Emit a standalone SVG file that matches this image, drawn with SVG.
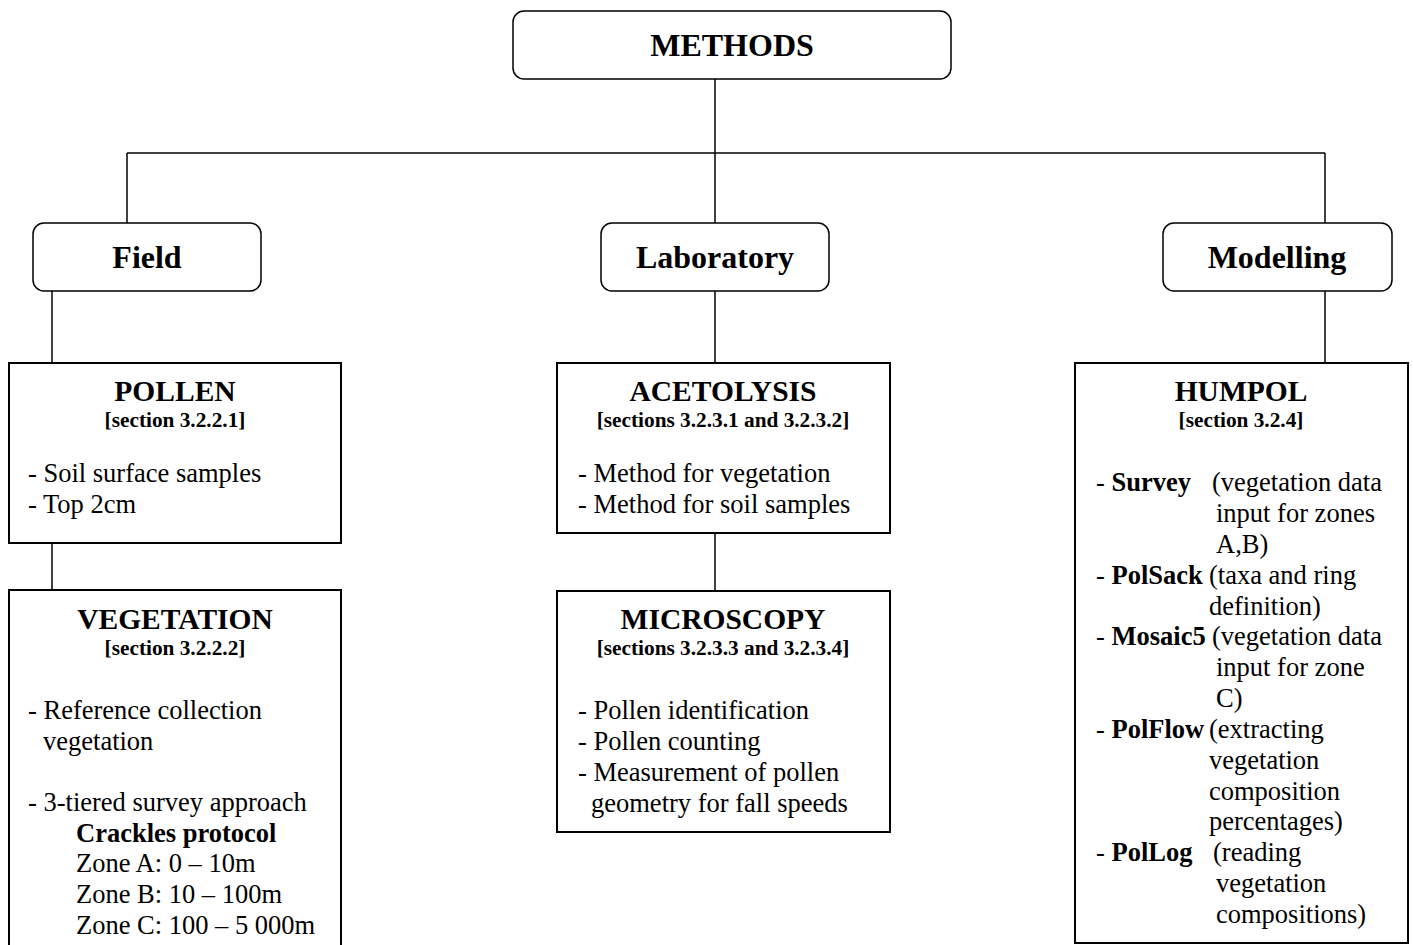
<svg xmlns="http://www.w3.org/2000/svg" width="1413" height="945" viewBox="0 0 1413 945">
<style>
text{font-family:"Liberation Serif","Times New Roman",serif;fill:#000}
.top{font-size:32px;font-weight:bold;text-anchor:middle}
.h{font-size:29.5px;font-weight:bold;text-anchor:middle}
.sec{font-size:21.3px;font-weight:bold;text-anchor:middle}
.b{font-size:26.5px}
.bb{font-weight:bold}
.rbox{fill:#fff;stroke:#000;stroke-width:1.5}
.box{fill:#fff;stroke:#000;stroke-width:2}
.conn line{stroke:#000;stroke-width:1.5}
</style>
<rect width="1413" height="945" fill="#fff"/>
<g id="connectors" class="conn">
<line x1="715" y1="79" x2="715" y2="153"/>
<line x1="127" y1="153" x2="1325" y2="153"/>
<line x1="127" y1="153" x2="127" y2="223"/>
<line x1="715" y1="153" x2="715" y2="223"/>
<line x1="1325" y1="153" x2="1325" y2="223"/>
<line x1="52" y1="291" x2="52" y2="363"/>
<line x1="52" y1="543" x2="52" y2="590"/>
<line x1="715" y1="291" x2="715" y2="363"/>
<line x1="715" y1="533" x2="715" y2="591"/>
<line x1="1325" y1="291" x2="1325" y2="363"/>
</g>
<g id="methods">
<rect class="rbox" x="513" y="11" width="438" height="68" rx="11"/>
<text class="top" x="732" y="56">METHODS</text>
</g>
<g id="field">
<rect class="rbox" x="33" y="223" width="228" height="68" rx="11"/>
<text class="top" x="147" y="268">Field</text>
</g>
<g id="laboratory">
<rect class="rbox" x="601" y="223" width="228" height="68" rx="11"/>
<text class="top" x="715" y="268">Laboratory</text>
</g>
<g id="modelling">
<rect class="rbox" x="1163" y="223" width="229" height="68" rx="11"/>
<text class="top" x="1277" y="268">Modelling</text>
</g>
<g id="pollen">
<rect class="box" x="9" y="363" width="332" height="180"/>
<text class="h" x="175" y="401">POLLEN</text>
<text class="sec" x="175" y="427">[section 3.2.2.1]</text>
<text class="b" x="28" y="482">- Soil surface samples</text>
<text class="b" x="28" y="513">- Top 2cm</text>
</g>
<g id="vegetation">
<rect class="box" x="9" y="590" width="332" height="370"/>
<text class="h" x="175" y="629">VEGETATION</text>
<text class="sec" x="175" y="655">[section 3.2.2.2]</text>
<text class="b" x="28" y="719">- Reference collection</text>
<text class="b" x="43" y="750">vegetation</text>
<text class="b" x="28" y="811">- 3-tiered survey approach</text>
<text class="b bb" x="76" y="842">Crackles protocol</text>
<text class="b" x="76" y="872">Zone A: 0 – 10m</text>
<text class="b" x="76" y="903">Zone B: 10 – 100m</text>
<text class="b" x="76" y="934">Zone C: 100 – 5 000m</text>
</g>
<g id="acetolysis">
<rect class="box" x="557" y="363" width="333" height="170"/>
<text class="h" x="723" y="401">ACETOLYSIS</text>
<text class="sec" x="723" y="427">[sections 3.2.3.1 and 3.2.3.2]</text>
<text class="b" x="578" y="482">- Method for vegetation</text>
<text class="b" x="578" y="513">- Method for soil samples</text>
</g>
<g id="microscopy">
<rect class="box" x="557" y="591" width="333" height="241"/>
<text class="h" x="723" y="629">MICROSCOPY</text>
<text class="sec" x="723" y="655">[sections 3.2.3.3 and 3.2.3.4]</text>
<text class="b" x="578" y="719">- Pollen identification</text>
<text class="b" x="578" y="750">- Pollen counting</text>
<text class="b" x="578" y="781">- Measurement of pollen</text>
<text class="b" x="591" y="812">geometry for fall speeds</text>
</g>
<g id="humpol">
<rect class="box" x="1075" y="363" width="333" height="580"/>
<text class="h" x="1241" y="401">HUMPOL</text>
<text class="sec" x="1241" y="427">[section 3.2.4]</text>
<text class="b" x="1096" y="491">- <tspan class="bb">Survey</tspan></text>
<text class="b" x="1212" y="491">(vegetation data</text>
<text class="b" x="1216" y="522">input for zones</text>
<text class="b" x="1216" y="553">A,B)</text>
<text class="b" x="1096" y="584">- <tspan class="bb">PolSack</tspan></text>
<text class="b" x="1209" y="584">(taxa and ring</text>
<text class="b" x="1209" y="615">definition)</text>
<text class="b" x="1096" y="645">- <tspan class="bb">Mosaic5</tspan></text>
<text class="b" x="1212" y="645">(vegetation data</text>
<text class="b" x="1216" y="676">input for zone</text>
<text class="b" x="1216" y="707">C)</text>
<text class="b" x="1096" y="738">- <tspan class="bb">PolFlow</tspan></text>
<text class="b" x="1209" y="738">(extracting</text>
<text class="b" x="1209" y="769">vegetation</text>
<text class="b" x="1209" y="800">composition</text>
<text class="b" x="1209" y="830">percentages)</text>
<text class="b" x="1096" y="861">- <tspan class="bb">PolLog</tspan></text>
<text class="b" x="1213" y="861">(reading</text>
<text class="b" x="1216" y="892">vegetation</text>
<text class="b" x="1216" y="923">compositions)</text>
</g>
</svg>
